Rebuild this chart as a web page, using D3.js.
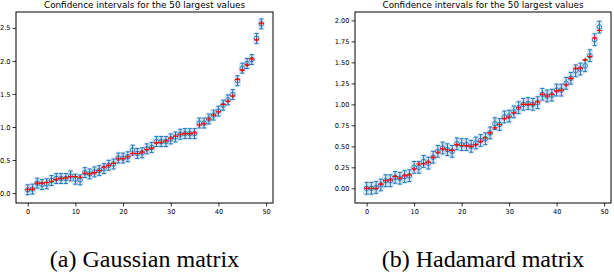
<!DOCTYPE html>
<html>
<head>
<meta charset="utf-8">
<script src="https://cdn.jsdelivr.net/npm/d3@7/dist/d3.min.js"></script>
<style>
  body { margin: 0; background: #fff; }
  svg { display: block; }
  .tick text { font-family: "DejaVu Sans", sans-serif; font-size: 6.6px; fill: #000; }
  .title { font-family: "DejaVu Sans", sans-serif; font-size: 8.8px; text-anchor: middle; }
  .caption { font-family: "Liberation Serif", "Times New Roman", serif; font-size: 24px; text-anchor: middle; }
</style>
</head>
<body>
<div class="figure"></div>
<script>
// ranks of the 50 largest values
const ranks = d3.range(50);

// (a) Gaussian matrix: estimated values and the true values (red)
const gaussEst = [0.05, 0.06, 0.15, 0.13, 0.14, 0.19, 0.22, 0.22, 0.22, 0.26,
                  0.21, 0.20, 0.31, 0.29, 0.32, 0.34, 0.37, 0.42, 0.44, 0.53,
                  0.53, 0.55, 0.65, 0.60, 0.61, 0.67, 0.69, 0.78, 0.78, 0.78,
                  0.82, 0.85, 0.89, 0.90, 0.90, 0.90, 1.06, 1.06, 1.12, 1.18,
                  1.24, 1.33, 1.41, 1.49, 1.70, 1.89, 1.96, 2.02, 2.34, 2.56];
const gaussTrue = [0.05, 0.06, 0.15, 0.15, 0.16, 0.18, 0.21, 0.22, 0.23, 0.25,
                   0.25, 0.24, 0.30, 0.29, 0.31, 0.34, 0.39, 0.42, 0.45, 0.52,
                   0.52, 0.55, 0.60, 0.60, 0.62, 0.66, 0.68, 0.76, 0.77, 0.79,
                   0.83, 0.86, 0.89, 0.90, 0.90, 0.91, 1.03, 1.05, 1.12, 1.18,
                   1.23, 1.34, 1.39, 1.47, 1.72, 1.86, 1.94, 2.03, 2.32, 2.57];
const gaussErr = 0.075;

// (b) Hadamard matrix
const hadaEst = [0.00, 0.00, 0.01, 0.04, 0.09, 0.09, 0.13, 0.12, 0.14, 0.15,
                 0.25, 0.25, 0.32, 0.30, 0.37, 0.44, 0.48, 0.46, 0.44, 0.53,
                 0.52, 0.52, 0.50, 0.54, 0.57, 0.59, 0.66, 0.77, 0.76, 0.85,
                 0.86, 0.91, 0.96, 1.00, 1.01, 1.00, 1.02, 1.12, 1.10, 1.11,
                 1.17, 1.17, 1.25, 1.31, 1.40, 1.42, 1.46, 1.58, 1.77, 1.92];
const hadaTrue = [0.00, 0.00, 0.00, 0.05, 0.09, 0.10, 0.14, 0.12, 0.15, 0.16,
                  0.23, 0.29, 0.29, 0.31, 0.37, 0.43, 0.47, 0.46, 0.45, 0.52,
                  0.51, 0.51, 0.50, 0.52, 0.56, 0.60, 0.66, 0.72, 0.76, 0.83,
                  0.85, 0.90, 0.96, 1.00, 1.00, 1.00, 1.03, 1.12, 1.10, 1.12,
                  1.16, 1.17, 1.23, 1.31, 1.43, 1.43, 1.53, 1.57, 1.79, 1.88];
const hadaErr = 0.07;

// tick labels
const xTicks = [0, 10, 20, 30, 40, 50];
const gaussYTicks = [0.0, 0.5, 1.0, 1.5, 2.0, 2.5];
const hadaYTicks = [0.0, 0.25, 0.5, 0.75, 1.0, 1.25, 1.5, 1.75, 2.0];

const titleText = "Confidence intervals for the 50 largest values";

const w = 614;
const h = 274;

let svg = d3.select(".figure").append("svg")
  .attr("width", w)
  .attr("height", h);

function panel(params) {
  const width = params.right - params.left;
  const height = params.bottom - params.top;

  const x = d3.scaleLinear().domain([-2.45, 51.45]).range([0, width]);
  const y = d3.scaleLinear().domain(params.yDomain).range([height, 0]);

  const g = svg.append("g")
    .attr("transform", "translate(" + params.left + "," + params.top + ")");

  const pts = ranks.map(function(i) {
    return { i: i, est: params.est[i], tru: params.tru[i] };
  });

  // pale halo behind each interval
  g.selectAll(".halo")
    .data(pts)
    .enter()
      .append("rect")
      .attr("x", function(d) { return x(d.i) - 3.5; })
      .attr("y", function(d) { return y(d.est + params.err) - 1.5; })
      .attr("width", 7)
      .attr("height", function(d) { return y(d.est - params.err) - y(d.est + params.err) + 3; })
      .attr("rx", 3)
      .style("fill", "#c6dbef")
      .style("opacity", 0.6);

  // error bars
  g.selectAll(".bar")
    .data(pts)
    .enter()
      .append("line")
      .attr("x1", function(d) { return x(d.i); })
      .attr("x2", function(d) { return x(d.i); })
      .attr("y1", function(d) { return y(d.est - params.err); })
      .attr("y2", function(d) { return y(d.est + params.err); })
      .style("stroke", "#1f77b4")
      .style("stroke-width", 1);

  [-1, 1].forEach(function(s) {
    g.selectAll(".cap" + s)
      .data(pts)
      .enter()
        .append("line")
        .attr("x1", function(d) { return x(d.i) - 2; })
        .attr("x2", function(d) { return x(d.i) + 2; })
        .attr("y1", function(d) { return y(d.est + s * params.err); })
        .attr("y2", function(d) { return y(d.est + s * params.err); })
        .style("stroke", "#1f77b4")
        .style("stroke-width", 1);
  });

  // open circles for the estimates
  g.selectAll(".dot")
    .data(pts)
    .enter()
      .append("circle")
      .attr("cx", function(d) { return x(d.i); })
      .attr("cy", function(d) { return y(d.est); })
      .attr("r", 2.3)
      .style("fill", "none")
      .style("stroke", "#1f77b4")
      .style("stroke-width", 0.9);

  // red plus for the true values
  g.selectAll(".truth")
    .data(pts)
    .enter()
      .append("path")
      .attr("d", function(d) {
        const cx = x(d.i), cy = y(d.tru);
        return "M" + (cx - 2.6) + "," + cy + "H" + (cx + 2.6) + "M" + cx + "," + (cy - 2) + "V" + (cy + 2);
      })
      .style("stroke", "#ff0000")
      .style("stroke-width", 1.1);

  // axes
  g.append("g")
    .attr("transform", "translate(0," + height + ")")
    .call(d3.axisBottom(x).tickValues(xTicks).tickSize(3.5).tickPadding(2.5).tickFormat(d3.format("d")))
    .call(function(a) { a.select(".domain").remove(); });

  g.append("g")
    .call(d3.axisLeft(y).tickValues(params.yTicks).tickSize(3.5).tickPadding(2).tickFormat(d3.format(params.fmt)))
    .call(function(a) { a.select(".domain").remove(); });

  g.selectAll(".tick line").style("stroke", "#000").style("stroke-width", 0.8);

  // frame
  g.append("rect")
    .attr("width", width)
    .attr("height", height)
    .style("fill", "none")
    .style("stroke", "#000")
    .style("stroke-width", 1);

  g.append("text")
    .classed("title", true)
    .attr("x", width / 2)
    .attr("y", -4)
    .text(titleText);

  svg.append("text")
    .classed("caption", true)
    .attr("x", params.left + width / 2)
    .attr("y", 267)
    .text(params.caption);
}

panel({
  left: 16, right: 273, top: 12, bottom: 203,
  yDomain: [-0.15, 2.74], yTicks: gaussYTicks, fmt: ".1f",
  est: gaussEst, tru: gaussTrue, err: gaussErr,
  caption: "(a) Gaussian matrix"
});

panel({
  left: 355, right: 611, top: 12, bottom: 203,
  yDomain: [-0.175, 2.1], yTicks: hadaYTicks, fmt: ".2f",
  est: hadaEst, tru: hadaTrue, err: hadaErr,
  caption: "(b) Hadamard matrix"
});
</script>
</body>
</html>
